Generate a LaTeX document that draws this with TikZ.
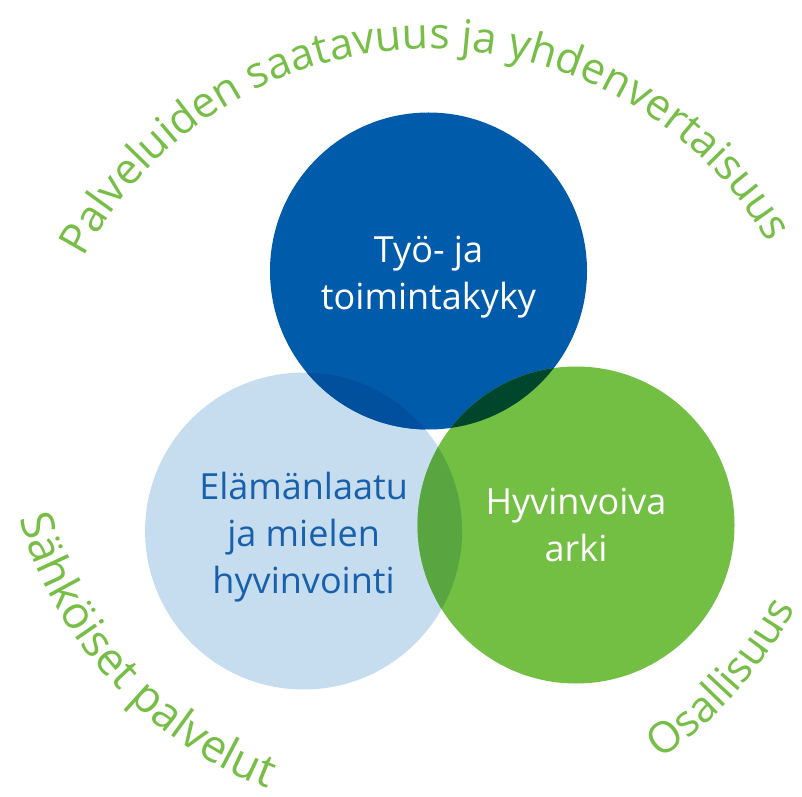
\documentclass[tikz,border=0pt]{standalone}
\usepackage{fontspec}
\setmainfont{Open Sans}
\usetikzlibrary{decorations.text}
\definecolor{dblue}{RGB}{0,91,170}
\definecolor{lblue}{RGB}{198,221,240}
\definecolor{lgreen}{RGB}{114,191,68}
\definecolor{ovDL}{RGB}{0,80,158}
\definecolor{ovDG}{RGB}{0,70,45}
\definecolor{ovLG}{RGB}{89,165,64}
\definecolor{txtgreen}{RGB}{118,190,70}
\definecolor{txtblue}{RGB}{24,96,172}
\begin{document}
\begin{tikzpicture}[x=1pt,y=1pt,
  venn/.style={circle, minimum size=317pt, inner sep=0pt, align=center,
    font=\fontsize{36}{47}\selectfont},
  arctext/.style={decorate, decoration={text along path, text align=center,
    text color=txtgreen}}]
\useasboundingbox (0,0) rectangle (802,796);
% circles
\node[venn, fill=lblue] (light) at (303.6,265) {};
\node[venn, fill=dblue] (dark) at (428.5,525) {};
\node[venn, fill=lgreen] (green) at (576,271) {};
% overlaps
\begin{scope}
  \clip (dark.center) circle (158.5);
  \fill[ovDL] (light.center) circle (158.5);
  \fill[ovDG] (green.center) circle (158.5);
\end{scope}
\begin{scope}
  \clip (light.center) circle (158.5);
  \fill[ovLG] (green.center) circle (158.5);
\end{scope}
% labels
\node[align=center, font=\fontsize{36}{47}\selectfont, text=white] (tdark) at ([yshift=-6]dark.center) {Työ- ja\\toimintakyky};
\node[align=center, font=\fontsize{36}{47}\selectfont, text=txtblue] (tlight) at ([yshift=-6]light.center) {Elämänlaatu\\ja mielen\\hyvinvointi};
\node[align=center, font=\fontsize{36}{47}\selectfont, text=white] (tgreen) at (green.center) {Hyvinvoiva\\arki};
% curved texts
\coordinate (ctop) at (430,355);
\coordinate (cbot) at (415,392);
\path[arctext, decoration={text={|\fontsize{43}{43}\selectfont|Palveluiden saatavuus ja yhdenvertaisuus}}]
  (ctop) ++(171.2:392) arc[start angle=171.2, end angle=11.2, radius=392];
\path[arctext, decoration={text={|\fontsize{45}{45}\selectfont|Sähköiset palvelut}}]
  (cbot) ++(172.6:412) arc[start angle=172.6, end angle=272.6, radius=412];
\path[arctext, decoration={text={|\fontsize{43}{43}\selectfont|Osallisuus}}]
  (cbot) ++(-91.8:432) arc[start angle=-91.8, end angle=8.2, radius=432];
\end{tikzpicture}
\end{document}
